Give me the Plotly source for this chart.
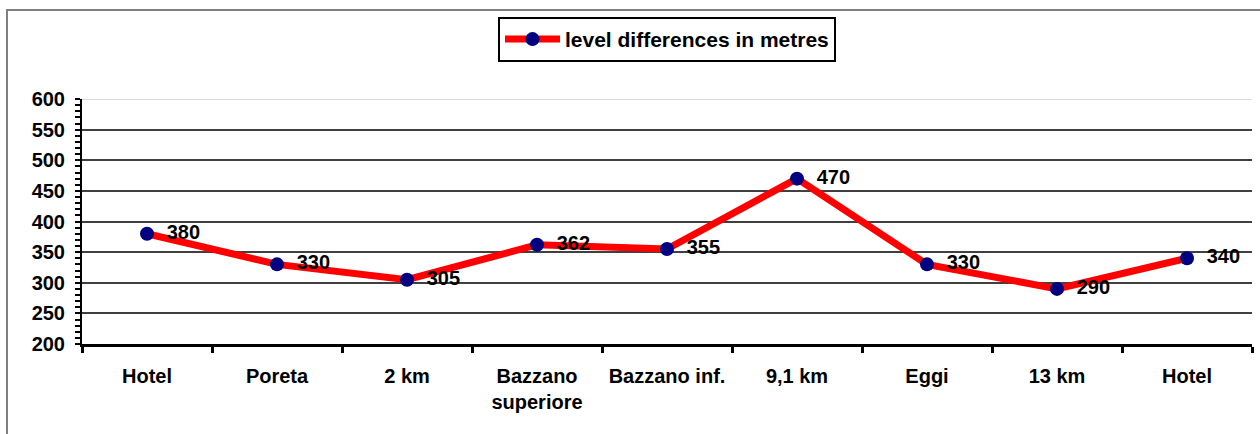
"""
Level differences along the route - line chart
"""

import plotly.graph_objects as go

categories = ['Hotel', 'Poreta', '2 km', 'Bazzano<br>superiore', 'Bazzano inf.',
              '9,1 km', 'Eggi', '13 km', 'Hotel']
levels = [380, 330, 305, 362, 355, 470, 330, 290, 340]
y_ticks = [200, 250, 300, 350, 400, 450, 500, 550, 600]

FONT = 'Liberation Sans, Arial, sans-serif'

x_pos = list(range(len(categories)))
boundaries = [i - 0.5 for i in range(len(categories) + 1)]

fig = go.Figure()

fig.add_trace(go.Scatter(
    x=x_pos,
    y=levels,
    mode='lines+markers+text',
    name='level differences in metres',
    line=dict(color='#ff0000', width=7),
    marker=dict(color='#000080', size=14),
    text=['\u2002' + str(v) for v in levels],
    textposition='middle right',
    textfont=dict(family=FONT, size=20, color='black', weight='bold'),
    cliponaxis=False,
))

# light top border of the plot area at 600
fig.add_shape(type='line', xref='paper', yref='y', x0=0, x1=1, y0=600, y1=600,
              line=dict(color='#d9d9d9', width=2), layer='above')

# outer chart frame (cropped on the right/bottom)
fig.add_shape(type='rect', xref='paper', yref='paper',
              x0=-0.0641, x1=1.2, y0=-1, y1=1.363,
              line=dict(color='#808080', width=2))

fig.update_layout(
    width=1260,
    height=434,
    margin=dict(l=82, r=8, t=99, b=90),
    plot_bgcolor='white',
    paper_bgcolor='white',
    font=dict(family=FONT, size=20, color='black', weight='bold'),
    showlegend=True,
    legend=dict(
        orientation='h',
        x=0.5, xanchor='center',
        y=1.335, yanchor='top',
        bordercolor='black',
        borderwidth=2,
        bgcolor='white',
        font=dict(family=FONT, size=21, color='black', weight='bold'),
        itemwidth=55,
    ),
    xaxis=dict(
        range=[-0.5, len(categories) - 0.5],
        tickmode='array',
        tickvals=x_pos,
        ticktext=categories,
        ticks='',
        showgrid=False,
        zeroline=False,
        showline=True,
        linecolor='black',
        linewidth=3,
        ticklabelstandoff=12,
        automargin=False,
        tickfont=dict(family=FONT, size=20, color='black', weight='bold'),
        minor=dict(tickmode='array', tickvals=boundaries, ticks='outside',
                   ticklen=6, tickwidth=3, tickcolor='black', showgrid=False),
    ),
    yaxis=dict(
        range=[200, 600],
        tickmode='array',
        tickvals=y_ticks,
        ticks='outside',
        ticklen=5,
        tickwidth=2,
        tickcolor='black',
        showgrid=True,
        gridcolor='#404040',
        gridwidth=2,
        zeroline=False,
        showline=True,
        linecolor='black',
        linewidth=2,
        ticklabelstandoff=6,
        automargin=False,
        tickfont=dict(family=FONT, size=20, color='black', weight='bold'),
        minor=dict(dtick=10, ticks='outside', ticklen=5, tickwidth=2,
                   tickcolor='black', showgrid=False),
    ),
)

fig.write_html("out.html", config={'displayModeBar': False},
               post_script="document.body.style.margin='0';")
